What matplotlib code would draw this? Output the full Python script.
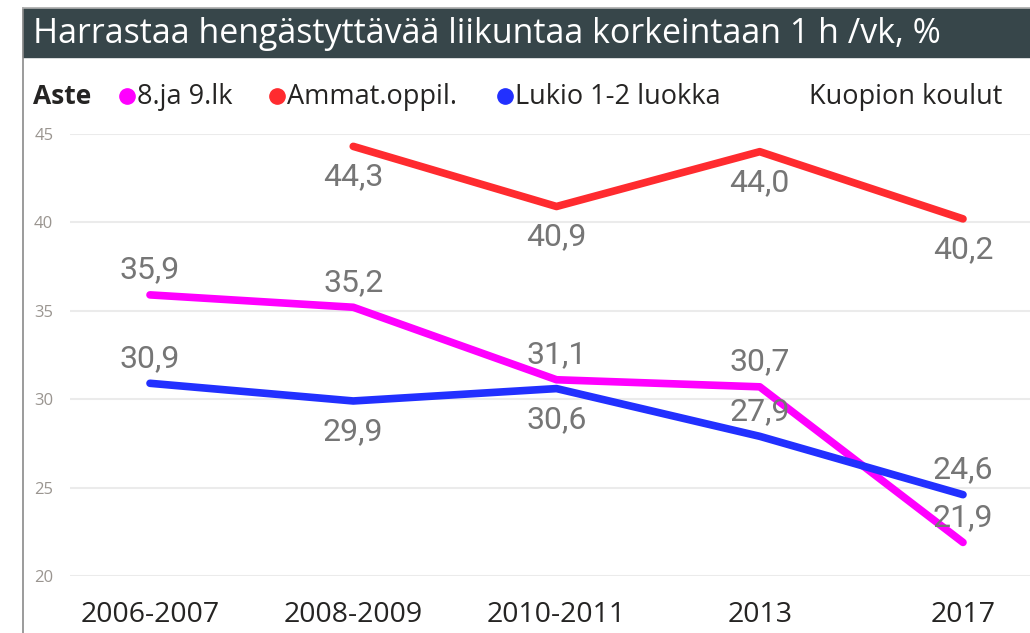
import matplotlib
matplotlib.use("Agg")
import matplotlib.pyplot as plt
from matplotlib.patches import Rectangle
from matplotlib.lines import Line2D
import numpy as np

# data
periods = ["2006-2007", "2008-2009", "2010-2011", "2013", "2017"]
series_names = ["8.ja 9.lk", "Ammat.oppil.", "Lukio 1-2 luokka"]
yla = [35.9, 35.2, 31.1, 30.7, 21.9]
ammat = [np.nan, 44.3, 40.9, 44.0, 40.2]
lukio = [30.9, 29.9, 30.6, 27.9, 24.6]
colors = ["#ff00ff", "#ff2b2f", "#2230ff"]
# label above (+1) or below (-1) the point
yla_pos = [1, 1, 1, 1, 1]
ammat_pos = [0, -1, -1, -1, -1]
lukio_pos = [1, -1, -1, 1, 1]

W, H = 1030, 633
fig = plt.figure(figsize=(W / 100, H / 100), dpi=100)

def fx(px):
    return px / W

def fy(py):
    return 1 - py / H

# title bar + frame
fig.patches.append(Rectangle((fx(23), fy(57)), 1 - fx(23), fy(8) - fy(57),
                             transform=fig.transFigure, color="#37464a", zorder=0))
fig.add_artist(Line2D([fx(23), fx(23)], [0, fy(8)], color="#8a8a8a", lw=1.2))
fig.add_artist(Line2D([fx(23), 1], [fy(7.5), fy(7.5)], color="#b0b0b0", lw=1.2))
fig.text(fx(33), fy(34), "Harrastaa hengästyttävää liikuntaa korkeintaan 1 h /vk, %",
         color="white", fontsize=24.5, family="Open Sans", va="center", ha="left")

# legend row
fig.text(fx(33), fy(97), "Aste", fontsize=19, family="Open Sans", weight="bold",
         color="#252423", va="center")
leg_x = [127, 277, 505]
for name, c, x in zip(series_names, colors, leg_x):
    fig.add_artist(Line2D([fx(x)], [fy(96)], marker="o", markersize=11,
                          color=c, linestyle="none"))
    fig.text(fx(x + 10), fy(97), name, fontsize=19.5, family="Open Sans",
             color="#252423", va="center")
fig.text(fx(1002), fy(97), "Kuopion koulut", fontsize=19.5, family="Open Sans",
         color="#252423", va="center", ha="right")

ax = fig.add_axes([fx(70), fy(576), 1 - fx(70), fy(134) - fy(576)])
x = np.arange(len(periods))
for vals, c, pos in zip([yla, ammat, lukio], colors, [yla_pos, ammat_pos, lukio_pos]):
    ax.plot(x, vals, color=c, lw=5.5, solid_capstyle="round", zorder=3, clip_on=False)
    for xi, v, p in zip(x, vals, pos):
        if np.isnan(v):
            continue
        ax.annotate(f"{v:.1f}".replace(".", ","), (xi, v),
                    xytext=(0, 18 if p > 0 else -22), textcoords="offset points",
                    ha="center", va="center", fontsize=23, family="Roboto",
                    color="#767676", zorder=4)

ax.set_ylim(20, 45)
ax.set_yticks([20, 25, 30, 35, 40, 45])
ax.set_xlim(-80 / 203.25, 880 / 203.25)
ax.set_xticks(x)
ax.set_xticklabels(periods)
ax.grid(axis="y", color="#ebebeb", lw=1.5)
ax.set_axisbelow(True)
for s in ax.spines.values():
    s.set_visible(False)
ax.tick_params(axis="y", length=0, pad=12, labelsize=12, labelcolor="#9a9590")
ax.tick_params(axis="x", length=0, pad=18, labelsize=20.5, labelcolor="#252423")
for t in ax.get_yticklabels():
    t.set_family("Open Sans")
for t in ax.get_xticklabels():
    t.set_family("Open Sans")

fig.savefig("out.png", dpi=100)
